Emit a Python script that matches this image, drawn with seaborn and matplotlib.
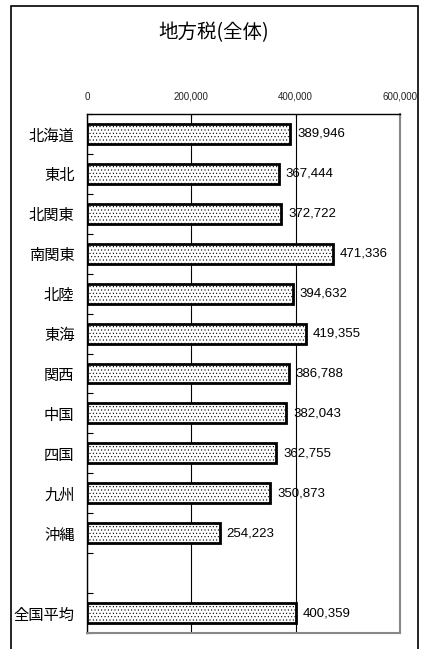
import pandas as pd
import matplotlib
matplotlib.use('Agg')
import matplotlib.pyplot as plt
import seaborn as sns
from matplotlib.patches import Rectangle
from matplotlib.ticker import FuncFormatter, MultipleLocator

# Data
regions = ['北海道', '東北', '北関東', '南関東', '北陸', '東海', '関西', '中国', '四国', '九州', '沖縄', '全国平均']
values = [389946, 367444, 372722, 471336, 394632, 419355, 386788, 382043, 362755, 350873, 254223, 400359]
order = regions[:11] + [' '] + regions[11:]
x_ticks = [0, 200000, 400000, 600000]

df = pd.DataFrame({'region': regions, 'value': values})

sns.set_theme(style='white')
plt.rcParams['font.family'] = ['Liberation Sans', 'Noto Sans CJK JP', 'DejaVu Sans']
plt.rcParams['text.color'] = 'black'
plt.rcParams['hatch.linewidth'] = 0.4
plt.rcParams['hatch.color'] = '#555555'

fig = plt.figure(figsize=(4.22, 6.49), dpi=100)
ax = fig.add_axes([87 / 422, 1 - 633 / 649, 313 / 422, 519 / 649])

sns.barplot(data=df, y='region', x='value', order=order, orient='h', width=0.5,
            color='white', edgecolor='black', linewidth=2, hatch='.....', ax=ax)
for p in ax.patches:
    p.set_zorder(3)

ax.set_xlim(0, 600000)
ax.set_xticks(x_ticks)
ax.xaxis.set_major_formatter(FuncFormatter(lambda v, p: f'{int(v):,}'))
ax.xaxis.tick_top()
ax.tick_params(axis='x', labelsize=7, pad=9, direction='in', length=3, width=0.8,
               color='black', labelcolor='#222222')
ax.grid(axis='x', color='black', linewidth=0.8, zorder=1)
ax.set_axisbelow(True)

ax.set_yticks(range(len(order)))
ax.set_yticklabels(order, fontsize=11, family=['Noto Sans CJK JP'])
ax.tick_params(axis='y', which='major', length=0, pad=9, labelcolor='black')
ax.yaxis.set_minor_locator(MultipleLocator(1, offset=0.5))
ax.tick_params(axis='y', which='minor', left=True, direction='in', length=4, width=0.8, color='black')
ax.set_ylim(len(order) - 0.5, -0.5)

ax.set_xlabel('')
ax.set_ylabel('')

for side in ['left', 'top']:
    ax.spines[side].set_color('black')
    ax.spines[side].set_linewidth(1.0)
for side in ['right', 'bottom']:
    ax.spines[side].set_color('#888888')
    ax.spines[side].set_linewidth(1.5)

# Value labels
for r, v in zip(regions, values):
    ax.annotate(f'{v:,}', (v, order.index(r)), xytext=(5, 0), textcoords='offset points',
                va='center', ha='left', fontsize=9.5, color='black')

fig.text(214 / 422, 1 - 33 / 649, '地方税(全体)', ha='center', va='center', fontsize=14,
         family=['Noto Sans CJK JP'], color='black')

# Outer frame
fig.patches.append(Rectangle((11 / 422, -0.05), 407 / 422, 1.05 - 6 / 649,
                             transform=fig.transFigure, fill=False, edgecolor='black', linewidth=1.2))

fig.savefig('out.png', dpi=100)
